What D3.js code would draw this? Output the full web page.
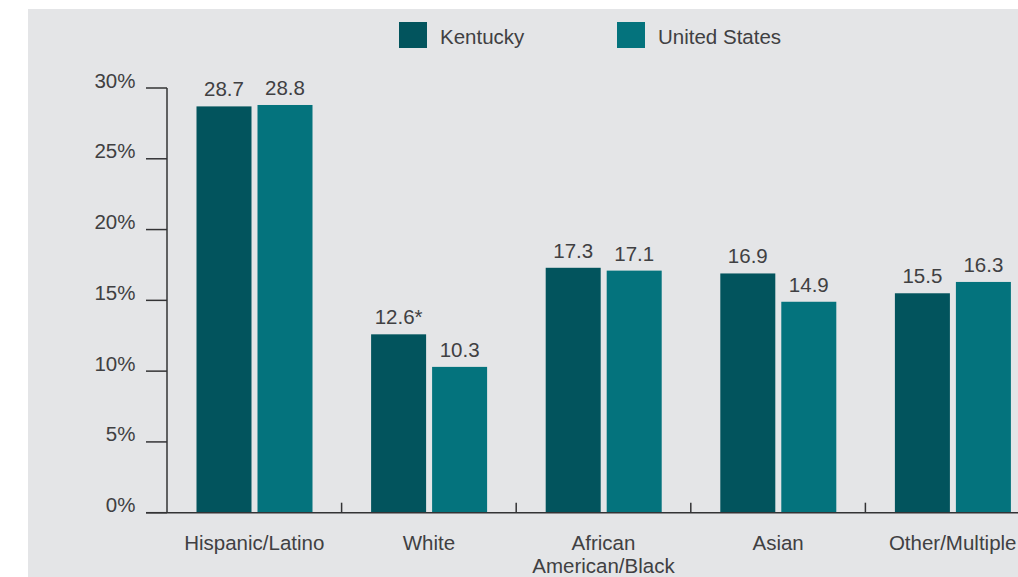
<!DOCTYPE html>
<html>
<head>
<meta charset="utf-8">
<script src="https://cdn.jsdelivr.net/npm/d3@7"></script>
<style>
  html, body { margin: 0; padding: 0; background: #ffffff; }
  svg { display: block; }
  text { font-family: "Liberation Sans", Arial, sans-serif; fill: #404042; }
</style>
</head>
<body>
<svg id="chart" width="1018" height="577"></svg>
<script>
const categories = ["Hispanic/Latino", "White", "African American/Black", "Asian", "Other/Multiple"];
const categoryLines = [["Hispanic/Latino"], ["White"], ["African", "American/Black"], ["Asian"], ["Other/Multiple"]];
const seriesNames = ["Kentucky", "United States"];
const kentucky = [28.7, 12.6, 17.3, 16.9, 15.5];
const unitedStates = [28.8, 10.3, 17.1, 14.9, 16.3];
const kentuckyLabels = ["28.7", "12.6*", "17.3", "16.9", "15.5"];
const unitedStatesLabels = ["28.8", "10.3", "17.1", "14.9", "16.3"];
const yTicks = [0, 5, 10, 15, 20, 25, 30];
const colors = ["#02545d", "#04737d"];

const fs = 20.5;
const svg = d3.select("#chart");
svg.append("rect").attr("x", 28).attr("y", 9).attr("width", 990).attr("height", 568).attr("fill", "#e4e5e7");

const x0 = 167, bandW = 174.6;
const x = d3.scaleBand().domain(categories).range([x0, x0 + bandW * 5]).paddingInner(0).paddingOuter(0);
const x1 = d3.scaleBand().domain(seriesNames).range([29.5, 145.5]).paddingInner(6 / 61);
const y = d3.scaleLinear().domain([0, 30]).range([512.7, 88]);

const seriesVals = [kentucky, unitedStates];
const seriesLabels = [kentuckyLabels, unitedStatesLabels];

// bars
seriesNames.forEach((s, si) => {
  const g = svg.append("g");
  categories.forEach((c, ci) => {
    const v = seriesVals[si][ci];
    g.append("rect")
      .attr("x", x(c) + x1(s))
      .attr("y", y(v))
      .attr("width", x1.bandwidth())
      .attr("height", y(0) - y(v))
      .attr("fill", colors[si]);
    g.append("text")
      .attr("x", x(c) + x1(s) + x1.bandwidth() / 2)
      .attr("y", y(v) - 10)
      .attr("text-anchor", "middle")
      .attr("font-size", fs)
      .text(seriesLabels[si][ci]);
  });
});

// y axis
const axisColor = "#333335";
svg.append("line").attr("x1", x0).attr("x2", x0).attr("y1", y(30)).attr("y2", y(0))
  .attr("stroke", axisColor).attr("stroke-width", 1.5);
yTicks.forEach(t => {
  svg.append("line").attr("x1", 146).attr("x2", x0).attr("y1", y(t)).attr("y2", y(t))
    .attr("stroke", axisColor).attr("stroke-width", 1.5);
  svg.append("text").attr("x", 135.5).attr("y", y(t) - 0.5)
    .attr("text-anchor", "end").attr("font-size", fs).text(t + "%");
});

// x axis baseline
svg.append("line").attr("x1", 146).attr("x2", 1018).attr("y1", y(0)).attr("y2", y(0))
  .attr("stroke", axisColor).attr("stroke-width", 1.5);
categories.slice(1).forEach(c => {
  svg.append("line").attr("x1", x(c)).attr("x2", x(c)).attr("y1", y(0)).attr("y2", y(0) - 10)
    .attr("stroke", axisColor).attr("stroke-width", 1.5);
});
categories.forEach((c, ci) => {
  const t = svg.append("text").attr("x", x(c) + x.bandwidth() / 2).attr("y", 550)
    .attr("text-anchor", "middle").attr("font-size", fs);
  categoryLines[ci].forEach((ln, li) => {
    t.append("tspan").attr("x", x(c) + x.bandwidth() / 2).attr("dy", li === 0 ? 0 : 23).text(ln);
  });
});

// legend
const legendX = [399, 617];
seriesNames.forEach((s, si) => {
  svg.append("rect").attr("x", legendX[si]).attr("y", 22).attr("width", 28).attr("height", 26).attr("fill", colors[si]);
  svg.append("text").attr("x", legendX[si] + 41).attr("y", 44).attr("font-size", fs).text(s);
});
</script>
</body>
</html>
